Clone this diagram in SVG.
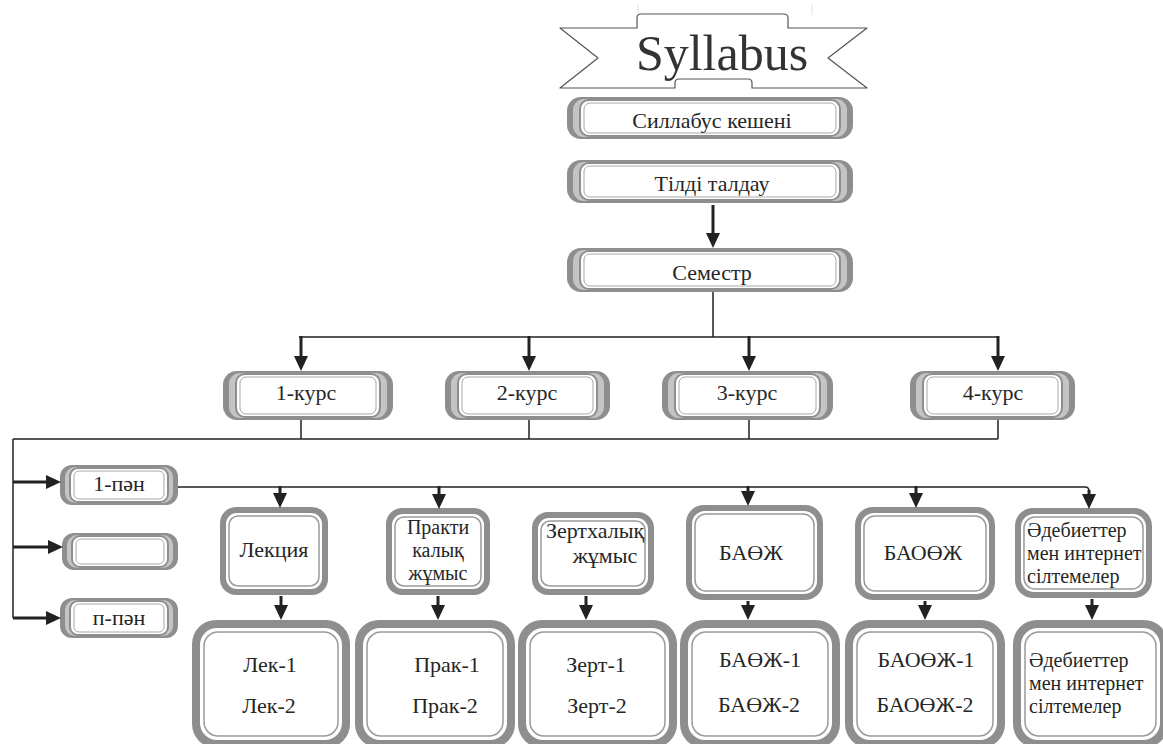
<svg xmlns="http://www.w3.org/2000/svg" width="1163" height="744" viewBox="0 0 1163 744">
  <defs>
    <style>
      text { font-family: "Liberation Serif", "Times New Roman", serif; fill: #262626; }
      .t { font-size: 22px; }
      .m { font-size: 20px; }
      .c { text-anchor: middle; }
      .title { font-size: 50px; fill: #333; }
      .banner { fill: #fff; stroke: #555; stroke-width: 1.2; stroke-linejoin: round; }
      .faint { stroke: #e2e2e2; stroke-width: 1; }
      .f-out { fill: #8e8e8e; }
      .f-mid { fill: #c4c4c4; }
      .f-in { fill: #fff; stroke: #8e8e8e; stroke-width: 2; }
      .f-line { fill: none; stroke: #a8a8a8; stroke-width: 1; }
      .b-in { fill: #fff; }
      .b-line { fill: none; stroke: #9a9a9a; stroke-width: 1.5; }
      .wire { fill: none; stroke: #222; stroke-width: 1.5; }
      .arrow { fill: none; stroke: #222; stroke-width: 3; marker-end: url(#head); }
    </style>
    <marker id="head" markerUnits="userSpaceOnUse" markerWidth="15" markerHeight="14" refX="6" refY="7" orient="auto">
      <path d="M0,0 L15,7 L0,14 Z" fill="#222"/>
    </marker>
  </defs>

  <!-- title ribbon -->
  <g id="title">
    <line class="faint" x1="638" y1="4" x2="638" y2="15"/>
    <line class="faint" x1="812" y1="4" x2="812" y2="15"/>
    <path class="banner" d="M560,28 L637,28 L637,18 Q637,14 641,14 L784,14 Q788,14 788,18 L788,28 L867,28 L828,58 L867,88 L752,88 L752,83 Q752,79 748,79 L679,79 Q675,79 675,83 L675,88 L560,88 L598,58 Z"/>
    <text class="title c" x="722" y="70">Syllabus</text>
  </g>

  <!-- pill-shaped headers -->
  <g id="n-kesheni">
    <rect class="f-out" x="567" y="97" width="286" height="42" rx="14"/>
    <rect class="f-mid" x="573" y="99" width="274" height="38" rx="11"/>
    <rect class="f-in" x="580" y="100" width="260" height="36" rx="9"/>
    <rect class="f-line" x="584" y="103" width="252" height="30" rx="6"/>
    <text class="t c" x="712" y="128">Силлабус кешені</text>
  </g>
  <g id="n-taldau">
    <rect class="f-out" x="567" y="160" width="286" height="43" rx="14"/>
    <rect class="f-mid" x="573" y="162" width="274" height="39" rx="11"/>
    <rect class="f-in" x="580" y="163" width="260" height="37" rx="9"/>
    <rect class="f-line" x="584" y="166" width="252" height="31" rx="6"/>
    <text class="t c" x="712" y="191">Тілді талдау</text>
  </g>
  <g id="n-semestr">
    <rect class="f-out" x="567" y="248" width="286" height="44" rx="14"/>
    <rect class="f-mid" x="573" y="250" width="274" height="40" rx="11"/>
    <rect class="f-in" x="580" y="251" width="260" height="38" rx="9"/>
    <rect class="f-line" x="584" y="254" width="252" height="32" rx="6"/>
    <text class="t c" x="712" y="280">Семестр</text>
  </g>

  <g id="n-kurs1">
    <rect class="f-out" x="223" y="371" width="170" height="49" rx="14"/>
    <rect class="f-mid" x="229" y="373" width="158" height="45" rx="11"/>
    <rect class="f-in" x="236" y="374" width="144" height="43" rx="9"/>
    <rect class="f-line" x="240" y="377" width="136" height="37" rx="6"/>
    <text class="t c" x="306" y="400">1-курс</text>
  </g>
  <g id="n-kurs2">
    <rect class="f-out" x="445" y="371" width="165" height="49" rx="14"/>
    <rect class="f-mid" x="451" y="373" width="153" height="45" rx="11"/>
    <rect class="f-in" x="458" y="374" width="139" height="43" rx="9"/>
    <rect class="f-line" x="462" y="377" width="131" height="37" rx="6"/>
    <text class="t c" x="527" y="400">2-курс</text>
  </g>
  <g id="n-kurs3">
    <rect class="f-out" x="662" y="371" width="171" height="49" rx="14"/>
    <rect class="f-mid" x="668" y="373" width="159" height="45" rx="11"/>
    <rect class="f-in" x="675" y="374" width="145" height="43" rx="9"/>
    <rect class="f-line" x="679" y="377" width="137" height="37" rx="6"/>
    <text class="t c" x="747" y="400">3-курс</text>
  </g>
  <g id="n-kurs4">
    <rect class="f-out" x="910" y="371" width="165" height="49" rx="14"/>
    <rect class="f-mid" x="916" y="373" width="153" height="45" rx="11"/>
    <rect class="f-in" x="923" y="374" width="139" height="43" rx="9"/>
    <rect class="f-line" x="927" y="377" width="131" height="37" rx="6"/>
    <text class="t c" x="993" y="400">4-курс</text>
  </g>

  <g id="n-pan1">
    <rect class="f-out" x="60" y="465" width="118" height="40" rx="12"/>
    <rect class="f-mid" x="65" y="467" width="108" height="36" rx="10"/>
    <rect class="f-in" x="70" y="468" width="98" height="34" rx="8"/>
    <rect class="f-line" x="74" y="471" width="90" height="28" rx="5"/>
    <text class="t c" x="119" y="491">1-пән</text>
  </g>
  <g id="n-pan2">
    <rect class="f-out" x="62" y="533" width="116" height="37" rx="12"/>
    <rect class="f-mid" x="67" y="535" width="106" height="33" rx="10"/>
    <rect class="f-in" x="72" y="536" width="96" height="31" rx="8"/>
    <rect class="f-line" x="76" y="539" width="88" height="25" rx="5"/>
  </g>
  <g id="n-pann">
    <rect class="f-out" x="60" y="598" width="118" height="40" rx="12"/>
    <rect class="f-mid" x="65" y="600" width="108" height="36" rx="10"/>
    <rect class="f-in" x="70" y="601" width="98" height="34" rx="8"/>
    <rect class="f-line" x="74" y="604" width="90" height="28" rx="5"/>
    <text class="t c" x="119" y="625">п-пән</text>
  </g>

  <!-- activity boxes -->
  <g id="n-lekciya">
    <rect class="f-out" x="220" y="507" width="108" height="88" rx="16"/>
    <rect class="b-in" x="226" y="513" width="96" height="76" rx="11"/>
    <rect class="b-line" x="229" y="516" width="90" height="70" rx="9"/>
    <text class="t c" x="274" y="557">Лекция</text>
  </g>
  <g id="n-praktika">
    <rect class="f-out" x="386" y="508" width="104" height="87" rx="16"/>
    <rect class="b-in" x="392" y="514" width="92" height="75" rx="11"/>
    <rect class="b-line" x="395" y="517" width="86" height="69" rx="9"/>
    <text class="m c" x="438" y="534">Практи</text>
    <text class="m c" x="438" y="557">калық</text>
    <text class="m c" x="438" y="580">жұмыс</text>
  </g>
  <g id="n-zerthana">
    <rect class="f-out" x="532" y="512" width="122" height="83" rx="16"/>
    <rect class="b-in" x="538" y="518" width="110" height="71" rx="11"/>
    <rect class="b-line" x="541" y="521" width="104" height="65" rx="9"/>
    <text class="t c" x="595" y="538">Зертхалық</text>
    <text class="t c" x="605" y="563">жұмыс</text>
  </g>
  <g id="n-baozh">
    <rect class="f-out" x="686" y="505" width="137" height="95" rx="18"/>
    <rect class="b-in" x="692" y="511" width="125" height="83" rx="13"/>
    <rect class="b-line" x="695" y="514" width="119" height="77" rx="11"/>
    <text class="t c" x="751" y="560">БАӨЖ</text>
  </g>
  <g id="n-baoozh">
    <rect class="f-out" x="855" y="507" width="140" height="93" rx="18"/>
    <rect class="b-in" x="861" y="513" width="128" height="81" rx="13"/>
    <rect class="b-line" x="864" y="516" width="122" height="75" rx="11"/>
    <text class="t c" x="923" y="560">БАОӨЖ</text>
  </g>
  <g id="n-adebiet">
    <rect class="f-out" x="1015" y="508" width="137" height="90" rx="18"/>
    <rect class="b-in" x="1021" y="514" width="125" height="78" rx="13"/>
    <rect class="b-line" x="1024" y="517" width="119" height="72" rx="11"/>
    <text class="m" x="1027" y="537">Әдебиеттер</text>
    <text class="m" x="1027" y="560">мен интернет</text>
    <text class="m" x="1027" y="583">сілтемелер</text>
  </g>

  <!-- detail boxes -->
  <g id="n-lek">
    <rect class="f-out" x="192" y="620" width="158" height="128" rx="24"/>
    <rect class="b-in" x="200" y="628" width="142" height="112" rx="17"/>
    <rect class="b-line" x="204" y="632" width="134" height="104" rx="14"/>
    <text class="t c" x="270" y="672">Лек-1</text>
    <text class="t c" x="269" y="713">Лек-2</text>
  </g>
  <g id="n-prak">
    <rect class="f-out" x="355" y="620" width="160" height="128" rx="24"/>
    <rect class="b-in" x="363" y="628" width="144" height="112" rx="17"/>
    <rect class="b-line" x="367" y="632" width="136" height="104" rx="14"/>
    <text class="t c" x="447" y="672">Прак-1</text>
    <text class="t c" x="445" y="713">Прак-2</text>
  </g>
  <g id="n-zert">
    <rect class="f-out" x="518" y="620" width="159" height="128" rx="24"/>
    <rect class="b-in" x="526" y="628" width="143" height="112" rx="17"/>
    <rect class="b-line" x="530" y="632" width="135" height="104" rx="14"/>
    <text class="t c" x="596" y="672">Зерт-1</text>
    <text class="t c" x="597" y="713">Зерт-2</text>
  </g>
  <g id="n-baozh-d">
    <rect class="f-out" x="680" y="620" width="160" height="128" rx="24"/>
    <rect class="b-in" x="688" y="628" width="144" height="112" rx="17"/>
    <rect class="b-line" x="692" y="632" width="136" height="104" rx="14"/>
    <text class="t c" x="760" y="667">БАӨЖ-1</text>
    <text class="t c" x="759" y="712">БАӨЖ-2</text>
  </g>
  <g id="n-baoozh-d">
    <rect class="f-out" x="845" y="620" width="160" height="128" rx="24"/>
    <rect class="b-in" x="853" y="628" width="144" height="112" rx="17"/>
    <rect class="b-line" x="857" y="632" width="136" height="104" rx="14"/>
    <text class="t c" x="926" y="667">БАОӨЖ-1</text>
    <text class="t c" x="925" y="712">БАОӨЖ-2</text>
  </g>
  <g id="n-adebiet-d">
    <rect class="f-out" x="1013" y="620" width="155" height="128" rx="24"/>
    <rect class="b-in" x="1021" y="628" width="139" height="112" rx="17"/>
    <rect class="b-line" x="1025" y="632" width="131" height="104" rx="14"/>
    <text class="m" x="1029" y="667">Әдебиеттер</text>
    <text class="m" x="1029" y="690">мен интернет</text>
    <text class="m" x="1029" y="713">сілтемелер</text>
  </g>

  <!-- connectors -->
  <g id="connectors">
    <line class="arrow" x1="713" y1="205" x2="713" y2="239"/>
    <path class="wire" d="M713,292 V337 M299,337 H998"/>
    <line class="arrow" x1="301" y1="336" x2="301" y2="362"/>
    <line class="arrow" x1="529" y1="336" x2="529" y2="362"/>
    <line class="arrow" x1="749" y1="336" x2="749" y2="362"/>
    <line class="arrow" x1="998" y1="336" x2="998" y2="362"/>

    <path class="wire" d="M301,420 V439 M529,420 V439 M749,420 V439 M998,420 V439 M13,439 H998 M13,439 V618"/>
    <line class="arrow" x1="13" y1="482" x2="52" y2="482"/>
    <line class="arrow" x1="13" y1="547" x2="54" y2="547"/>
    <line class="arrow" x1="13" y1="618" x2="52" y2="618"/>

    <path class="wire" d="M178,487 H1085 Q1089,487 1089,491"/>
    <line class="arrow" x1="280" y1="486" x2="280" y2="499"/>
    <line class="arrow" x1="439" y1="486" x2="439" y2="500"/>
    <line class="arrow" x1="748" y1="486" x2="748" y2="497"/>
    <line class="arrow" x1="916" y1="486" x2="916" y2="499"/>
    <line class="arrow" x1="1089" y1="490" x2="1089" y2="500"/>

    <line class="arrow" x1="281" y1="596" x2="281" y2="611"/>
    <line class="arrow" x1="438" y1="596" x2="438" y2="611"/>
    <line class="arrow" x1="586" y1="596" x2="586" y2="611"/>
    <line class="arrow" x1="748" y1="601" x2="748" y2="611"/>
    <line class="arrow" x1="925" y1="601" x2="925" y2="611"/>
    <line class="arrow" x1="1092" y1="599" x2="1092" y2="611"/>
  </g>
</svg>
